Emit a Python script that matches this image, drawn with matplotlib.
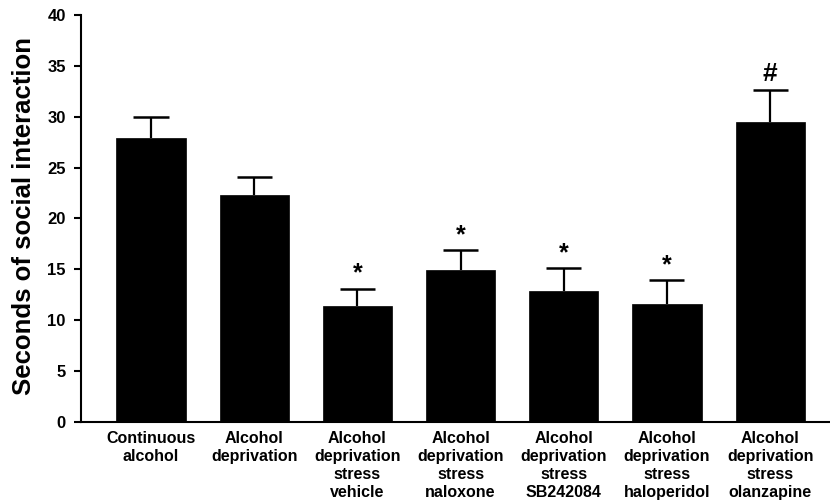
import matplotlib
matplotlib.use("Agg")
import matplotlib.pyplot as plt
import numpy as np

plt.rcParams['font.family'] = ['Liberation Sans', 'DejaVu Sans']
plt.rcParams['font.weight'] = 'bold'

categories = ["Continuous\nalcohol", "Alcohol\ndeprivation",
              "Alcohol\ndeprivation\nstress\nvehicle",
              "Alcohol\ndeprivation\nstress\nnaloxone",
              "Alcohol\ndeprivation\nstress\nSB242084",
              "Alcohol\ndeprivation\nstress\nhaloperidol",
              "Alcohol\ndeprivation\nstress\nolanzapine"]
means = [27.9, 22.3, 11.4, 14.9, 12.85, 11.6, 29.45]
sems = [2.1, 1.75, 1.7, 2.0, 2.25, 2.3, 3.15]
marks = ["", "", "*", "*", "*", "*", "#"]
yticks = [0, 5, 10, 15, 20, 25, 30, 35, 40]

fig = plt.figure(figsize=(8.3, 5.04), dpi=100)
ax = fig.add_axes([81/830, 1-421.7/504, 749/830, (421.7-15)/504])

x = np.arange(len(categories))
means_a = np.array(means)
sems_a = np.array(sems)
ax.bar(x, means_a, width=0.67, color='black', edgecolor='black', linewidth=0.5, zorder=2)
ax.vlines(x, means_a, means_a + sems_a, color='black', linewidth=1.6, zorder=1)
ax.hlines(means_a + sems_a, x - 0.17, x + 0.17, color='black', linewidth=1.8, zorder=1)

for xi, m, s, mk in zip(x, means, sems, marks):
    if mk == "*":
        ax.text(xi, m + s + 0.3, mk, ha='center', va='bottom', fontsize=18, fontweight='bold')
    elif mk == "#":
        ax.text(xi, m + s + 0.4, mk, ha='center', va='bottom', fontsize=19, fontweight='bold')

ax.set_xlim(-0.678, 6.58)
ax.set_ylim(0, 40)
ax.set_yticks(yticks)
ax.set_yticklabels([str(t) for t in yticks], fontsize=12, fontweight='bold')
ax.set_xticks(x)
ax.set_xticklabels(categories, fontsize=11.5, fontweight='bold', linespacing=1.27, va='top')
ax.tick_params(axis='x', length=0, pad=6.5)
ax.tick_params(axis='y', length=5, width=1.5, pad=6, direction='out')

for side in ['top', 'right']:
    ax.spines[side].set_visible(False)
for side in ['left', 'bottom']:
    ax.spines[side].set_linewidth(1.5)

ax.set_ylabel("Seconds of social interaction", fontsize=18.5, fontweight='bold')
ax.yaxis.set_label_coords(-0.060, 0.505)

fig.savefig("out.png", dpi=100)
